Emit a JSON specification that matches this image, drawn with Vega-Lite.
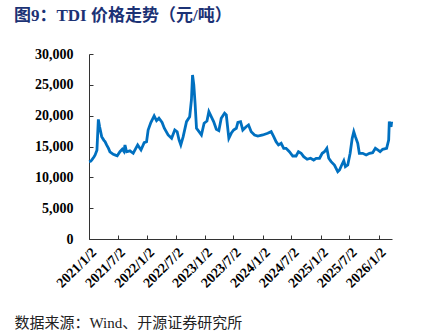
{
  "$schema": "https://vega.github.io/schema/vega-lite/v6.json",
  "width": 303,
  "height": 185,
  "autosize": {"type": "none"},
  "padding": {"left": 89, "top": 54, "right": 47, "bottom": 96},
  "background": "white",
  "title": {
    "text": "图9：TDI 价格走势（元/吨）",
    "anchor": "start",
    "frame": "group",
    "dx": -75,
    "offset": 22,
    "font": "Liberation Serif, Noto Sans CJK SC",
    "fontSize": 17,
    "fontWeight": "bold",
    "color": "#1c3275"
  },
  "config": {"view": {"stroke": null}},
  "data": {
    "values": [
      {"date": "2021-01-02", "price": 12540},
      {"date": "2021-01-12", "price": 12600},
      {"date": "2021-01-19", "price": 12800},
      {"date": "2021-02-02", "price": 13300},
      {"date": "2021-02-09", "price": 13600},
      {"date": "2021-02-21", "price": 14400},
      {"date": "2021-03-02", "price": 19400},
      {"date": "2021-03-10", "price": 18200},
      {"date": "2021-03-23", "price": 16600},
      {"date": "2021-04-06", "price": 16000},
      {"date": "2021-04-13", "price": 15800},
      {"date": "2021-04-23", "price": 15250},
      {"date": "2021-05-05", "price": 14700},
      {"date": "2021-05-14", "price": 14150},
      {"date": "2021-06-04", "price": 13740},
      {"date": "2021-06-18", "price": 13600},
      {"date": "2021-06-29", "price": 13500},
      {"date": "2021-07-16", "price": 14150},
      {"date": "2021-07-31", "price": 14550},
      {"date": "2021-08-10", "price": 14200},
      {"date": "2021-08-17", "price": 15250},
      {"date": "2021-08-27", "price": 14150},
      {"date": "2021-09-17", "price": 14300},
      {"date": "2021-10-08", "price": 13900},
      {"date": "2021-11-05", "price": 15250},
      {"date": "2021-11-26", "price": 14440},
      {"date": "2021-12-16", "price": 15620},
      {"date": "2021-12-31", "price": 15780},
      {"date": "2022-01-10", "price": 17680},
      {"date": "2022-01-27", "price": 18870},
      {"date": "2022-02-17", "price": 19950},
      {"date": "2022-03-04", "price": 19190},
      {"date": "2022-03-19", "price": 19580},
      {"date": "2022-04-08", "price": 18900},
      {"date": "2022-04-22", "price": 17960},
      {"date": "2022-05-16", "price": 16870},
      {"date": "2022-06-07", "price": 16330},
      {"date": "2022-06-27", "price": 17680},
      {"date": "2022-07-12", "price": 17400},
      {"date": "2022-07-24", "price": 16060},
      {"date": "2022-08-04", "price": 15250},
      {"date": "2022-08-19", "price": 16600},
      {"date": "2022-09-09", "price": 19030},
      {"date": "2022-09-29", "price": 19840},
      {"date": "2022-10-10", "price": 22550},
      {"date": "2022-10-17", "price": 26600},
      {"date": "2022-10-25", "price": 24980},
      {"date": "2022-11-02", "price": 22010},
      {"date": "2022-11-11", "price": 17960},
      {"date": "2022-11-27", "price": 17400},
      {"date": "2022-12-12", "price": 16870},
      {"date": "2022-12-29", "price": 18770},
      {"date": "2023-01-16", "price": 19140},
      {"date": "2023-01-28", "price": 20650},
      {"date": "2023-02-12", "price": 19840},
      {"date": "2023-02-27", "price": 19030},
      {"date": "2023-03-16", "price": 17790},
      {"date": "2023-04-01", "price": 17570},
      {"date": "2023-04-16", "price": 19580},
      {"date": "2023-05-07", "price": 20390},
      {"date": "2023-05-18", "price": 20110},
      {"date": "2023-06-03", "price": 16330},
      {"date": "2023-06-18", "price": 17140},
      {"date": "2023-07-03", "price": 17680},
      {"date": "2023-07-20", "price": 17960},
      {"date": "2023-07-30", "price": 18900},
      {"date": "2023-08-16", "price": 19030},
      {"date": "2023-08-30", "price": 17680},
      {"date": "2023-09-20", "price": 18210},
      {"date": "2023-10-05", "price": 18490},
      {"date": "2023-10-22", "price": 17400},
      {"date": "2023-11-12", "price": 16870},
      {"date": "2023-12-03", "price": 16700},
      {"date": "2024-01-03", "price": 16870},
      {"date": "2024-02-03", "price": 17140},
      {"date": "2024-02-25", "price": 17400},
      {"date": "2024-03-12", "price": 16600},
      {"date": "2024-03-27", "price": 15780},
      {"date": "2024-04-11", "price": 15250},
      {"date": "2024-04-28", "price": 15520},
      {"date": "2024-05-14", "price": 14710},
      {"date": "2024-05-29", "price": 14710},
      {"date": "2024-06-19", "price": 14160},
      {"date": "2024-07-10", "price": 13460},
      {"date": "2024-07-31", "price": 13460},
      {"date": "2024-08-15", "price": 14160},
      {"date": "2024-09-01", "price": 13900},
      {"date": "2024-09-17", "price": 13350},
      {"date": "2024-10-09", "price": 12930},
      {"date": "2024-10-30", "price": 13090},
      {"date": "2024-11-19", "price": 12810},
      {"date": "2024-12-05", "price": 13090},
      {"date": "2024-12-26", "price": 13090},
      {"date": "2025-01-12", "price": 13900},
      {"date": "2025-01-26", "price": 14160},
      {"date": "2025-02-10", "price": 14710},
      {"date": "2025-02-22", "price": 13090},
      {"date": "2025-03-09", "price": 12540},
      {"date": "2025-03-30", "price": 12000},
      {"date": "2025-04-20", "price": 10920},
      {"date": "2025-05-01", "price": 11190},
      {"date": "2025-05-15", "price": 12000},
      {"date": "2025-05-28", "price": 12700},
      {"date": "2025-06-07", "price": 11730},
      {"date": "2025-06-22", "price": 12000},
      {"date": "2025-07-07", "price": 13900},
      {"date": "2025-07-20", "price": 16330},
      {"date": "2025-07-30", "price": 17400},
      {"date": "2025-08-09", "price": 16600},
      {"date": "2025-08-24", "price": 15520},
      {"date": "2025-09-03", "price": 13900},
      {"date": "2025-09-24", "price": 13900},
      {"date": "2025-10-16", "price": 13620},
      {"date": "2025-11-06", "price": 13900},
      {"date": "2025-11-26", "price": 14000},
      {"date": "2025-12-13", "price": 14710},
      {"date": "2025-12-28", "price": 14440},
      {"date": "2026-01-12", "price": 14160},
      {"date": "2026-01-28", "price": 14550},
      {"date": "2026-02-22", "price": 14710},
      {"date": "2026-03-07", "price": 16060},
      {"date": "2026-03-11", "price": 19030},
      {"date": "2026-03-22", "price": 18210},
      {"date": "2026-03-26", "price": 19030}
    ]
  },
  "mark": {"type": "line", "color": "#0070C0", "strokeWidth": 2.8},
  "encoding": {
    "x": {
      "field": "date",
      "type": "temporal",
      "scale": {
        "type": "utc",
        "domain": [
          {"year": 2021, "month": 1, "date": 2, "utc": true},
          {"year": 2026, "month": 3, "date": 28, "utc": true}
        ]
      },
      "axis": {
        "values": [
          {"year": 2021, "month": 1, "date": 2, "utc": true},
          {"year": 2021, "month": 7, "date": 2, "utc": true},
          {"year": 2022, "month": 1, "date": 2, "utc": true},
          {"year": 2022, "month": 7, "date": 2, "utc": true},
          {"year": 2023, "month": 1, "date": 2, "utc": true},
          {"year": 2023, "month": 7, "date": 2, "utc": true},
          {"year": 2024, "month": 1, "date": 2, "utc": true},
          {"year": 2024, "month": 7, "date": 2, "utc": true},
          {"year": 2025, "month": 1, "date": 2, "utc": true},
          {"year": 2025, "month": 7, "date": 2, "utc": true},
          {"year": 2026, "month": 1, "date": 2, "utc": true}
        ],
        "format": "%Y/%-m/%-d",
        "labelAngle": -45,
        "labelAlign": "right",
        "labelBaseline": "top",
        "labelFont": "Liberation Serif",
        "labelFontSize": 14,
        "labelFontWeight": "bold",
        "labelColor": "#000000",
        "labelOverlap": false,
        "labelFlush": false,
        "labelPadding": 10,
        "tickSize": -4,
        "tickColor": "#333333",
        "domainColor": "#333333",
        "grid": false,
        "title": "数据来源：Wind、开源证券研究所",
        "titleFont": "Liberation Serif, Noto Sans CJK SC",
        "titleFontSize": 15,
        "titleFontWeight": "normal",
        "titleColor": "#222222",
        "titleAnchor": "start",
        "titleAlign": "left",
        "titleBaseline": "middle",
        "titleX": -75,
        "titleY": 83
      }
    },
    "y": {
      "field": "price",
      "type": "quantitative",
      "scale": {"domain": [0, 30000]},
      "axis": {
        "values": [0, 5000, 10000, 15000, 20000, 25000, 30000],
        "format": ",.0f",
        "labelFont": "Liberation Serif",
        "labelFontSize": 14,
        "labelFontWeight": "bold",
        "labelColor": "#000000",
        "labelPadding": 20,
        "tickSize": -4,
        "tickColor": "#333333",
        "domainColor": "#333333",
        "grid": false,
        "title": null
      }
    }
  }
}
